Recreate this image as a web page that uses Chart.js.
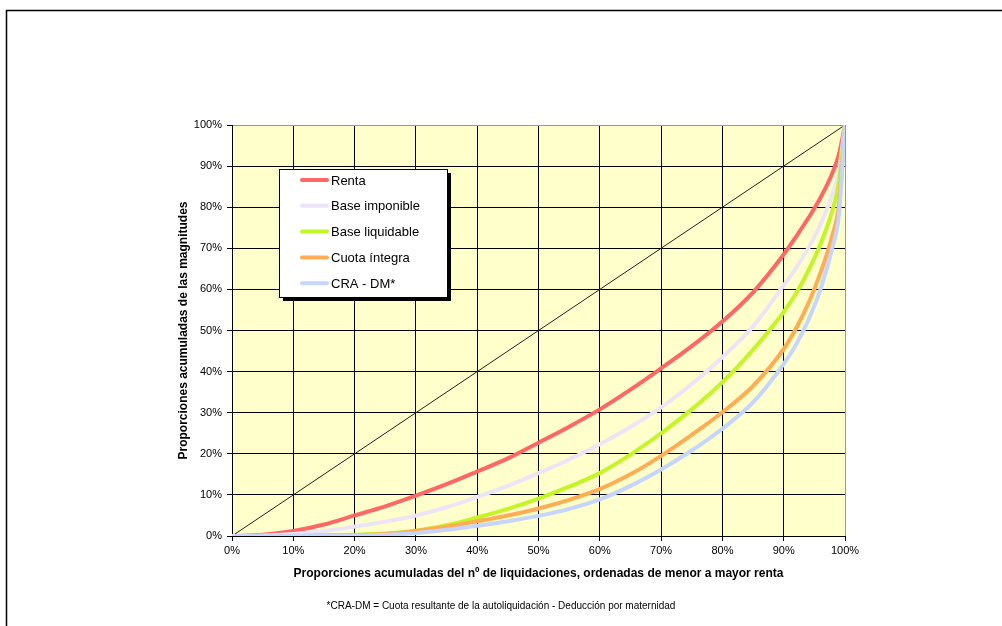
<!DOCTYPE html>
<html>
<head>
<meta charset="utf-8">
<script src="https://cdn.jsdelivr.net/npm/chart.js@4"></script>
<style>
  html, body { margin: 0; padding: 0; background: #fff; }
  #wrap { width: 1002px; height: 626px; position: relative; }
</style>
</head>
<body>
<div id="wrap"><canvas id="lorenz"></canvas></div>
<script>
// Data (cumulative shares, %)
const xValues = [0, 5, 10, 15, 20, 25, 30, 35, 40, 45, 50, 55, 60, 65, 70, 75, 80, 85, 90, 92, 94, 96, 98, 99, 100];
const renta = [0, 0.3, 1.2, 2.8, 5.0, 7.2, 9.8, 12.6, 15.7, 18.9, 22.7, 26.6, 30.8, 35.6, 40.8, 46.2, 52.2, 59.3, 68.5, 72.8, 77.3, 82.3, 88.5, 92.8, 100];
const baseImponible = [0, 0.1, 0.5, 1.2, 2.3, 3.5, 5.0, 7.0, 9.5, 12.2, 15.3, 18.6, 22.3, 26.5, 31.3, 37.0, 43.5, 51.0, 61.0, 65.2, 70, 75.8, 83.5, 89, 100];
const baseLiquidable = [0, 0, 0.05, 0.15, 0.3, 0.6, 1.3, 2.6, 4.5, 6.6, 9.1, 12.0, 15.3, 19.8, 25.0, 30.8, 37.4, 45.3, 54.5, 59, 64.5, 71, 79.5, 86, 100];
const cuotaIntegra = [0, 0, 0, 0.1, 0.2, 0.5, 1.2, 2.3, 3.6, 5.0, 6.7, 8.8, 11.4, 15.0, 19.5, 24.6, 30.1, 36.5, 45.5, 50.5, 56.5, 64, 73.5, 80.5, 100];
const craDm = [0, 0, 0, 0.05, 0.1, 0.3, 0.7, 1.5, 2.5, 3.6, 4.9, 6.6, 8.9, 12.2, 16.2, 20.8, 26.1, 32.5, 41.9, 46.5, 52.5, 60, 70.5, 78, 100];
const equality = [0, 100];
const equalityX = [0, 100];

const seriesLabels = ['Renta', 'Base imponible', 'Base liquidable', 'Cuota íntegra', 'CRA - DM*'];
const seriesColors = ['#ff6666', '#ede4f7', '#c4f527', '#ffad55', '#c5d5fb'];
const seriesValues = [renta, baseImponible, baseLiquidable, cuotaIntegra, craDm];
const tickValues = [0, 10, 20, 30, 40, 50, 60, 70, 80, 90, 100];

const FONT = "'Liberation Sans', Arial, sans-serif";
const footnote = '*CRA-DM = Cuota resultante de la autoliquidación - Deducción por maternidad';

const toPoints = (xs, ys) => xs.map((x, i) => ({ x: x, y: ys[i] }));

const datasets = seriesValues.map((vals, i) => ({
    label: seriesLabels[i],
    data: toPoints(xValues, vals),
    borderColor: seriesColors[i],
    borderWidth: 4,
    pointRadius: 0,
    fill: false,
    cubicInterpolationMode: 'monotone',
    order: seriesValues.length - i // later series drawn on top
}));

datasets.push({
    label: 'equality',
    data: toPoints(equalityX, equality),
    borderColor: '#222',
    borderWidth: 1,
    pointRadius: 0,
    fill: false,
    order: 10
});

// Plot background, legend box, frame and footnote
const decorations = {
    id: 'decorations',
    beforeDraw(chart) {
        const { ctx, chartArea: a } = chart;
        ctx.save();
        ctx.fillStyle = '#ffffcc';
        ctx.fillRect(a.left, a.top, a.right - a.left, a.bottom - a.top);
        ctx.restore();
    },
    afterDraw(chart) {
        const ctx = chart.ctx;
        ctx.save();

        // outer frame (top + left only)
        ctx.strokeStyle = '#000';
        ctx.lineWidth = 1.5;
        ctx.beginPath();
        ctx.moveTo(6.5, 626);
        ctx.lineTo(6.5, 10.5);
        ctx.lineTo(1002, 10.5);
        ctx.stroke();

        // legend box with shadow
        const lx = 279, ly = 169, lw = 168, lh = 128;
        ctx.fillStyle = '#000';
        ctx.fillRect(lx + 4, ly + 4, lw, lh);
        ctx.fillStyle = '#fff';
        ctx.fillRect(lx, ly, lw, lh);
        ctx.strokeStyle = '#000';
        ctx.lineWidth = 1;
        ctx.strokeRect(lx + 0.5, ly + 0.5, lw, lh);

        ctx.font = '13px ' + FONT;
        ctx.textBaseline = 'middle';
        ctx.textAlign = 'left';
        seriesLabels.forEach((label, i) => {
            const y = 180 + i * 25.8;
            ctx.strokeStyle = seriesColors[i];
            ctx.lineWidth = 4;
            ctx.lineCap = 'round';
            ctx.beginPath();
            ctx.moveTo(302, y);
            ctx.lineTo(327, y);
            ctx.stroke();
            ctx.fillStyle = '#000';
            ctx.fillText(label, 331, y + 1);
        });

        // footnote
        ctx.font = '10px ' + FONT;
        ctx.textAlign = 'center';
        ctx.fillStyle = '#000';
        ctx.fillText(footnote, 501, 606);
        ctx.restore();
    }
};

const pct = v => v + '%';
const gridColor = ctx => (ctx.tick && ctx.tick.value === 100) ? '#999' : '#000';

new Chart(document.getElementById('lorenz'), {
    type: 'line',
    data: { datasets: datasets },
    options: {
        responsive: true,
        maintainAspectRatio: false,
        animation: false,
        layout: { padding: { left: 170, top: 125, right: 157, bottom: 40 } },
        plugins: {
            legend: { display: false },
            tooltip: { enabled: false }
        },
        scales: {
            x: {
                type: 'linear',
                min: 0,
                max: 100,
                afterFit: s => { s.height = 50; },
                afterBuildTicks: s => { s.ticks = tickValues.map(v => ({ value: v })); },
                ticks: { callback: pct, color: '#000', padding: 3, maxRotation: 0, font: { family: FONT, size: 11 } },
                grid: { color: gridColor, lineWidth: 1, tickLength: 5, tickColor: '#000' },
                border: { color: '#000', width: 1 },
                title: {
                    display: true,
                    text: 'Proporciones acumuladas del nº de liquidaciones, ordenadas de menor a mayor renta',
                    color: '#000',
                    font: { family: FONT, size: 12, weight: 'bold' },
                    padding: { top: 0, bottom: 5 }
                }
            },
            y: {
                type: 'linear',
                min: 0,
                max: 100,
                afterFit: s => { s.width = 62; },
                afterBuildTicks: s => { s.ticks = tickValues.map(v => ({ value: v })); },
                ticks: { callback: pct, color: '#000', padding: 5, font: { family: FONT, size: 11 } },
                grid: { color: gridColor, lineWidth: 1, tickLength: 5, tickColor: '#000' },
                border: { color: '#000', width: 1 },
                title: {
                    display: true,
                    text: 'Proporciones acumuladas de las magnitudes',
                    color: '#000',
                    font: { family: FONT, size: 12, weight: 'bold' },
                    padding: { top: 6, bottom: 0 }
                }
            }
        }
    },
    plugins: [decorations]
});
</script>
</body>
</html>
